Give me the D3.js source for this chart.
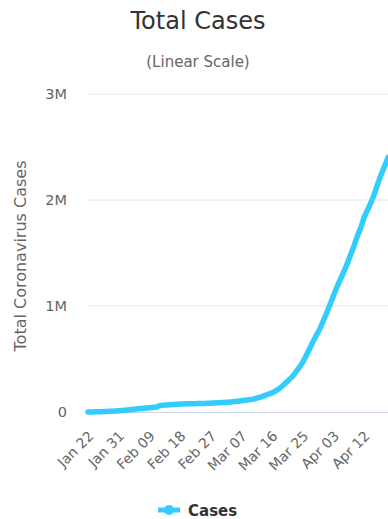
<!DOCTYPE html>
<html>
<head>
<meta charset="utf-8">
<script src="https://cdn.jsdelivr.net/npm/d3@7"></script>
<style>
  html, body { margin: 0; padding: 0; background: #fff; }
  svg { display: block; font-family: "DejaVu Sans", sans-serif; }
</style>
</head>
<body>
<svg id="chart" width="388" height="519"></svg>
<script>
// Daily dates, Jan 22 – Apr 19
const dates = [
  "Jan 22","Jan 23","Jan 24","Jan 25","Jan 26","Jan 27","Jan 28","Jan 29","Jan 30","Jan 31",
  "Feb 01","Feb 02","Feb 03","Feb 04","Feb 05","Feb 06","Feb 07","Feb 08","Feb 09","Feb 10",
  "Feb 11","Feb 12","Feb 13","Feb 14","Feb 15","Feb 16","Feb 17","Feb 18","Feb 19","Feb 20",
  "Feb 21","Feb 22","Feb 23","Feb 24","Feb 25","Feb 26","Feb 27","Feb 28","Feb 29","Mar 01",
  "Mar 02","Mar 03","Mar 04","Mar 05","Mar 06","Mar 07","Mar 08","Mar 09","Mar 10","Mar 11",
  "Mar 12","Mar 13","Mar 14","Mar 15","Mar 16","Mar 17","Mar 18","Mar 19","Mar 20","Mar 21",
  "Mar 22","Mar 23","Mar 24","Mar 25","Mar 26","Mar 27","Mar 28","Mar 29","Mar 30","Mar 31",
  "Apr 01","Apr 02","Apr 03","Apr 04","Apr 05","Apr 06","Apr 07","Apr 08","Apr 09","Apr 10",
  "Apr 11","Apr 12","Apr 13","Apr 14","Apr 15","Apr 16","Apr 17","Apr 18","Apr 19"
];

// Cumulative total cases
const cases = [
  580, 845, 1317, 2015, 2800, 4581, 6058, 7813, 9823, 11950,
  14553, 17391, 20630, 24545, 28266, 31439, 34876, 37552, 40553, 43099,
  45134, 59287, 64438, 67100, 69197, 71329, 73332, 75184, 75700, 76677,
  77673, 78651, 79205, 80087, 80828, 81820, 83112, 84615, 86604, 88585,
  90443, 93016, 95314, 98425, 102050, 106099, 109991, 114381, 118948, 126214,
  134576, 145483, 156653, 169593, 182490, 198238, 218822, 244933, 275597, 305036,
  337459, 378830, 422574, 471035, 531865, 596366, 663127, 723390, 784794, 858371,
  933633, 1014673, 1097143, 1177167, 1249649, 1321180, 1396476, 1480202, 1565278, 1657526,
  1735650, 1834721, 1904838, 1976191, 2056054, 2152437, 2240190, 2317759, 2401378
];

const xTickLabels = ["Jan 22","Jan 31","Feb 09","Feb 18","Feb 27","Mar 07","Mar 16","Mar 25","Apr 03","Apr 12"];
const yTickValues = [0, 1000000, 2000000, 3000000];
const yTickLabels = ["0", "1M", "2M", "3M"];

const seriesName = "Cases";
const lineColor = "#33ccff";

const svg = d3.select("#chart");
const W = 388, H = 519;
const plot = { left: 88, right: 388, top: 94, bottom: 412 };

const x = d3.scalePoint().domain(dates).range([plot.left, plot.right]);
const y = d3.scaleLinear().domain([0, 3000000]).range([plot.bottom, plot.top]);

// Title and subtitle
svg.append("text")
  .attr("x", W / 2 + 4).attr("y", 29)
  .attr("text-anchor", "middle")
  .attr("font-size", 24)
  .attr("fill", "#333")
  .text("Total Cases");

svg.append("text")
  .attr("x", W / 2 + 4).attr("y", 67)
  .attr("text-anchor", "middle")
  .attr("font-size", 15)
  .attr("fill", "#666")
  .text("(Linear Scale)");

// Horizontal grid lines
svg.append("g")
  .selectAll("line")
  .data(yTickValues.slice(1))
  .join("line")
  .attr("x1", plot.left).attr("x2", plot.right)
  .attr("y1", d => y(d)).attr("y2", d => y(d))
  .attr("stroke", "#e6e6e6").attr("stroke-width", 1);

// Y axis labels
const yAxis = d3.axisLeft(y)
  .tickValues(yTickValues)
  .tickFormat((d, i) => yTickLabels[i])
  .tickSize(0)
  .tickPadding(0);

const yg = svg.append("g")
  .attr("transform", `translate(${plot.left - 21},0)`)
  .call(yAxis);
yg.select(".domain").remove();
yg.selectAll("text")
  .attr("font-size", 14.5)
  .attr("fill", "#666")
  .attr("font-family", "DejaVu Sans, sans-serif");

// Y axis title
svg.append("text")
  .attr("transform", `translate(26,${(plot.top + plot.bottom) / 2 + 3}) rotate(-90)`)
  .attr("text-anchor", "middle")
  .attr("font-size", 16)
  .attr("fill", "#666")
  .text("Total Coronavirus Cases");

// X axis
const xAxis = d3.axisBottom(x)
  .tickValues(xTickLabels)
  .tickSize(0)
  .tickPadding(0);

const xg = svg.append("g")
  .attr("transform", `translate(0,${plot.bottom})`)
  .call(xAxis);
xg.select(".domain")
  .attr("stroke", "#ccd6eb").attr("stroke-width", 1);
xg.selectAll("text")
  .attr("font-size", 14)
  .attr("fill", "#666")
  .attr("font-family", "DejaVu Sans, sans-serif")
  .attr("text-anchor", "end")
  .attr("dy", 0)
  .attr("transform", "translate(6,25) rotate(-45)");

// Cases line
const line = d3.line()
  .x((d, i) => x(dates[i]))
  .y(d => y(d))
  .curve(d3.curveMonotoneX);

svg.append("path")
  .datum(cases)
  .attr("d", line)
  .attr("fill", "none")
  .attr("stroke", lineColor)
  .attr("stroke-width", 5.5)
  .attr("stroke-linejoin", "round")
  .attr("stroke-linecap", "round");

// Legend
const lg = svg.append("g").attr("transform", "translate(158,510)");
lg.append("line")
  .attr("x1", 0).attr("x2", 22)
  .attr("y1", 0).attr("y2", 0)
  .attr("stroke", lineColor).attr("stroke-width", 5);
lg.append("circle")
  .attr("cx", 11).attr("cy", 0).attr("r", 5)
  .attr("fill", lineColor);
lg.append("text")
  .attr("x", 30).attr("y", 5.5)
  .attr("font-size", 15)
  .attr("font-weight", "bold")
  .attr("fill", "#333")
  .text(seriesName);
</script>
</body>
</html>
